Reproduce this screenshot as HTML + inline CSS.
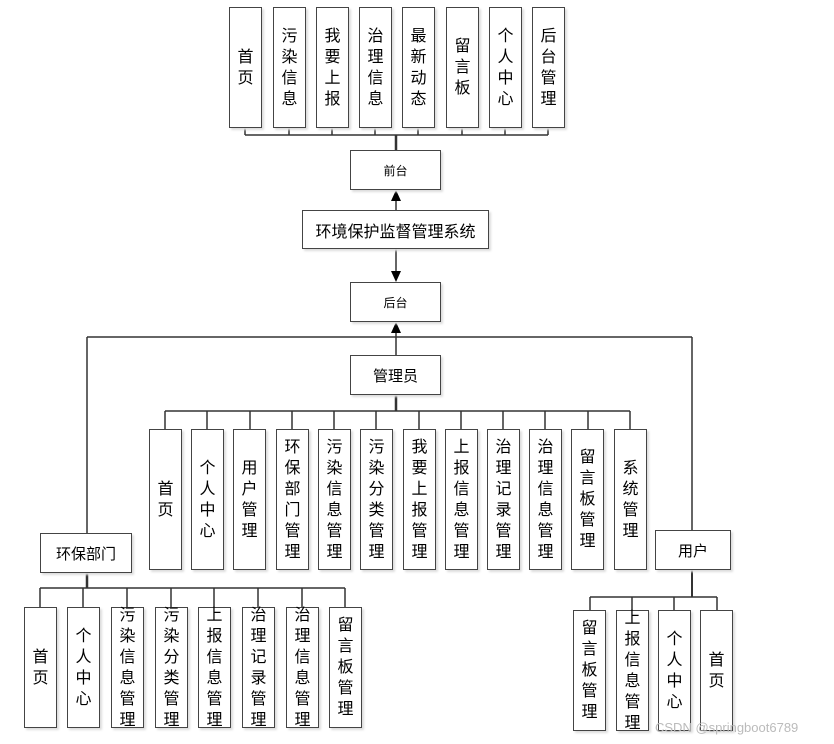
<!DOCTYPE html>
<html><head><meta charset="utf-8"><style>
body{margin:0;width:834px;height:744px;background:#fff;position:relative;overflow:hidden;font-family:"Liberation Sans","Noto Sans CJK SC",sans-serif;color:#000}
.b{position:absolute;border:1.5px solid #444;box-sizing:border-box;background:#fff;display:flex;align-items:center;justify-content:center;text-align:center;box-shadow:2px 2px 2px #ddd}
.v{font-size:16px;line-height:21px}
.v span{display:block;width:1em;margin:0 auto;word-break:break-all}
.h{font-size:15px}
svg{position:absolute;left:0;top:0}
</style></head><body>
<svg width="834" height="744">
<g stroke="#333" stroke-width="1.5" fill="none">
<line x1="245" y1="135" x2="548" y2="135"/>
<line x1="396" y1="135" x2="396" y2="150" stroke-width="2.5"/>
<line x1="245" y1="128" x2="245" y2="135"/><line x1="289" y1="128" x2="289" y2="135"/><line x1="332" y1="128" x2="332" y2="135"/><line x1="375" y1="128" x2="375" y2="135"/><line x1="418" y1="128" x2="418" y2="135"/><line x1="462" y1="128" x2="462" y2="135"/><line x1="505" y1="128" x2="505" y2="135"/><line x1="548" y1="128" x2="548" y2="135"/>
<line x1="396" y1="200" x2="396" y2="210"/>
<line x1="396" y1="249" x2="396" y2="272"/>
<line x1="396" y1="332" x2="396" y2="355"/>
<line x1="87" y1="337" x2="692" y2="337"/>
<line x1="87" y1="337" x2="87" y2="533"/>
<line x1="692" y1="337" x2="692" y2="530"/>
<line x1="396" y1="395" x2="396" y2="411" stroke-width="2.5"/>
<line x1="165" y1="411" x2="630" y2="411"/>
<line x1="165" y1="411" x2="165" y2="429"/><line x1="207" y1="411" x2="207" y2="429"/><line x1="250" y1="411" x2="250" y2="429"/><line x1="292" y1="411" x2="292" y2="429"/><line x1="334" y1="411" x2="334" y2="429"/><line x1="376" y1="411" x2="376" y2="429"/><line x1="419" y1="411" x2="419" y2="429"/><line x1="461" y1="411" x2="461" y2="429"/><line x1="503" y1="411" x2="503" y2="429"/><line x1="545" y1="411" x2="545" y2="429"/><line x1="588" y1="411" x2="588" y2="429"/><line x1="630" y1="411" x2="630" y2="429"/>
<line x1="87" y1="573" x2="87" y2="588" stroke-width="2.5"/>
<line x1="40" y1="588" x2="345" y2="588"/>
<line x1="40" y1="588" x2="40" y2="607"/><line x1="83" y1="588" x2="83" y2="607"/><line x1="127" y1="588" x2="127" y2="607"/><line x1="171" y1="588" x2="171" y2="607"/><line x1="214" y1="588" x2="214" y2="607"/><line x1="258" y1="588" x2="258" y2="607"/><line x1="302" y1="588" x2="302" y2="607"/><line x1="345" y1="588" x2="345" y2="607"/>
<line x1="692" y1="570" x2="692" y2="597" stroke-width="2"/>
<line x1="590" y1="597" x2="717" y2="597"/>
<line x1="590" y1="597" x2="590" y2="610"/><line x1="632" y1="597" x2="632" y2="610"/><line x1="674" y1="597" x2="674" y2="610"/><line x1="717" y1="597" x2="717" y2="610"/>
</g>
<g fill="#000">
<polygon points="396,190 391,201 401,201"/>
<polygon points="396,282 391,271 401,271"/>
<polygon points="396,322 391,333 401,333"/>
</g>
</svg>
<!-- top -->
<div class="b v" style="left:229px;top:7px;width:33px;height:121px"><span>首页</span></div>
<div class="b v" style="left:273px;top:7px;width:33px;height:121px"><span>污染信息</span></div>
<div class="b v" style="left:316px;top:7px;width:33px;height:121px"><span>我要上报</span></div>
<div class="b v" style="left:359px;top:7px;width:33px;height:121px"><span>治理信息</span></div>
<div class="b v" style="left:402px;top:7px;width:33px;height:121px"><span>最新动态</span></div>
<div class="b v" style="left:446px;top:7px;width:33px;height:121px"><span>留言板</span></div>
<div class="b v" style="left:489px;top:7px;width:33px;height:121px"><span>个人中心</span></div>
<div class="b v" style="left:532px;top:7px;width:33px;height:121px"><span>后台管理</span></div>
<div class="b" style="left:350px;top:150px;width:91px;height:40px;font-size:12px">前台</div>
<div class="b" style="left:302px;top:210px;width:187px;height:39px;font-size:16px">环境保护监督管理系统</div>
<div class="b" style="left:350px;top:282px;width:91px;height:40px;font-size:12px">后台</div>
<div class="b h" style="left:350px;top:355px;width:91px;height:40px">管理员</div>
<!-- admin -->
<div class="b v" style="left:149px;top:429px;width:33px;height:141px"><span>首页</span></div>
<div class="b v" style="left:191px;top:429px;width:33px;height:141px"><span>个人中心</span></div>
<div class="b v" style="left:233px;top:429px;width:33px;height:141px"><span>用户管理</span></div>
<div class="b v" style="left:276px;top:429px;width:33px;height:141px"><span>环保部门管理</span></div>
<div class="b v" style="left:318px;top:429px;width:33px;height:141px"><span>污染信息管理</span></div>
<div class="b v" style="left:360px;top:429px;width:33px;height:141px"><span>污染分类管理</span></div>
<div class="b v" style="left:403px;top:429px;width:33px;height:141px"><span>我要上报管理</span></div>
<div class="b v" style="left:445px;top:429px;width:33px;height:141px"><span>上报信息管理</span></div>
<div class="b v" style="left:487px;top:429px;width:33px;height:141px"><span>治理记录管理</span></div>
<div class="b v" style="left:529px;top:429px;width:33px;height:141px"><span>治理信息管理</span></div>
<div class="b v" style="left:571px;top:429px;width:33px;height:141px"><span>留言板管理</span></div>
<div class="b v" style="left:614px;top:429px;width:33px;height:141px"><span>系统管理</span></div>
<!-- 环保部门 -->
<div class="b h" style="left:40px;top:533px;width:92px;height:40px">环保部门</div>
<div class="b v" style="left:24px;top:607px;width:33px;height:121px"><span>首页</span></div>
<div class="b v" style="left:67px;top:607px;width:33px;height:121px"><span>个人中心</span></div>
<div class="b v" style="left:111px;top:607px;width:33px;height:121px"><span>污染信息管理</span></div>
<div class="b v" style="left:155px;top:607px;width:33px;height:121px"><span>污染分类管理</span></div>
<div class="b v" style="left:198px;top:607px;width:33px;height:121px"><span>上报信息管理</span></div>
<div class="b v" style="left:242px;top:607px;width:33px;height:121px"><span>治理记录管理</span></div>
<div class="b v" style="left:286px;top:607px;width:33px;height:121px"><span>治理信息管理</span></div>
<div class="b v" style="left:329px;top:607px;width:33px;height:121px"><span>留言板管理</span></div>
<!-- 用户 -->
<div class="b h" style="left:655px;top:530px;width:76px;height:40px">用户</div>
<div class="b v" style="left:573px;top:610px;width:33px;height:121px"><span>留言板管理</span></div>
<div class="b v" style="left:616px;top:610px;width:33px;height:121px"><span>上报信息管理</span></div>
<div class="b v" style="left:658px;top:610px;width:33px;height:121px"><span>个人中心</span></div>
<div class="b v" style="left:700px;top:610px;width:33px;height:121px"><span>首页</span></div>
<div style="position:absolute;left:655px;top:720px;font-size:13px;color:#bbb">CSDN @springboot6789</div>
</body></html>
